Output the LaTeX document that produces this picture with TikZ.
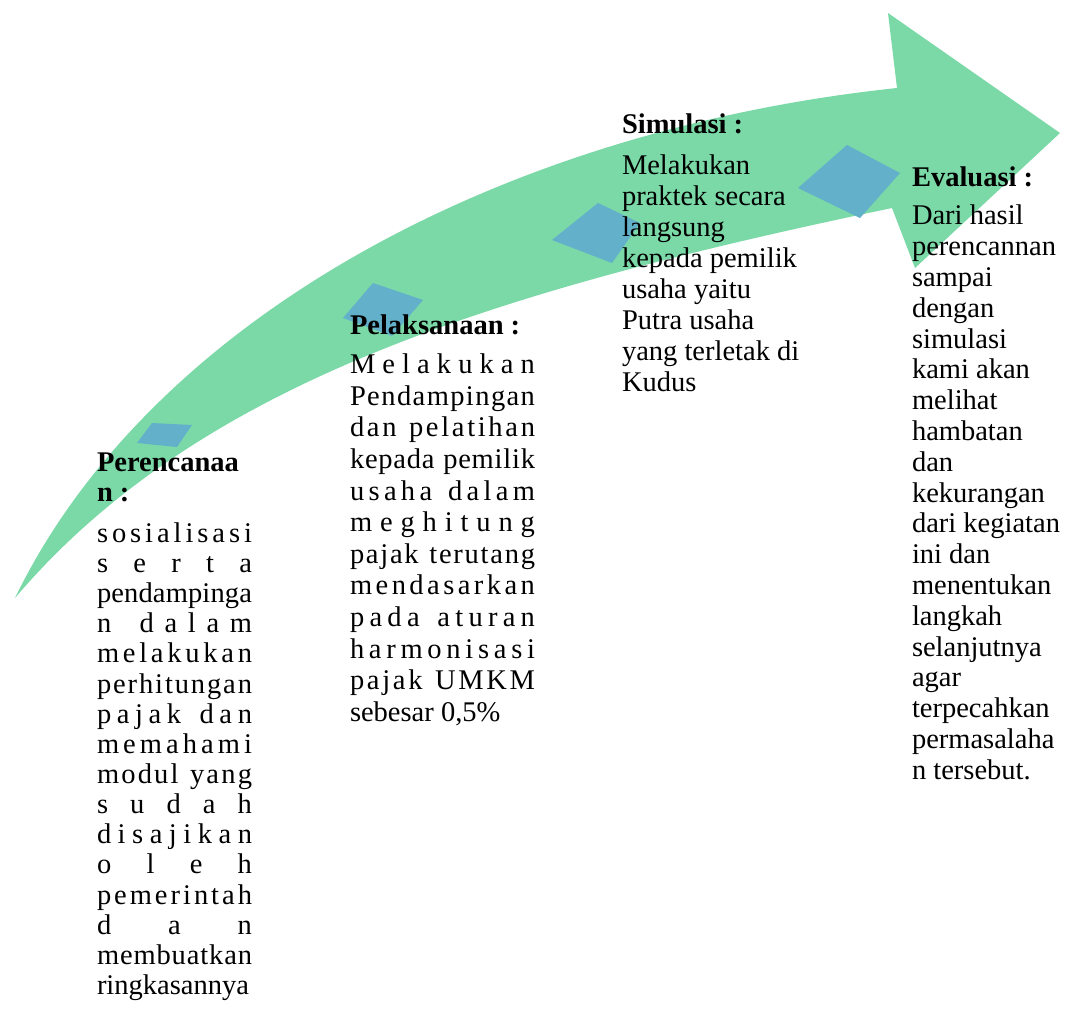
\documentclass[tikz,border=0pt]{standalone}
\usepackage{fontspec}
\setmainfont{Liberation Serif}
\newdimen\distw
\ExplSyntaxOn
\bool_new:N \l_dist_first_bool
\NewDocumentCommand \dist { m }
 {
  \hbox_to_wd:nn { \distw }
   {
    \bool_set_true:N \l_dist_first_bool
    \str_map_inline:nn {#1}
     {
      \bool_if:NTF \l_dist_first_bool
        { \bool_set_false:N \l_dist_first_bool }
        { \hfil }
      ##1
     }
   }
 }
\ExplSyntaxOff
\newcommand\stagebox[3]{\vtop{\distw=#1\relax\baselineskip=#2\relax\lineskiplimit=-1000pt\relax\lineskip=0pt\relax #3}}
\newcommand\headline[1]{\hbox{\bfseries #1}}
\newcommand\plainline[1]{\hbox{#1}}
\definecolor{arrowgreen}{RGB}{122,217,167}
\definecolor{stepblue}{RGB}{98,176,202}
\tikzset{
  stagetext/.style={anchor=base west, inner sep=0pt, outer sep=0pt, font=\fontsize{28.5}{30}\selectfont},
  stepmark/.style={fill=stepblue},
  arrowbody/.style={fill=arrowgreen}
}
\begin{document}
\begin{tikzpicture}[x=1pt,y=-1pt]
\fill[white] (0,0) rectangle (1066,1010);
\useasboundingbox (0,0) rectangle (1066,1010);
% arrow
\coordinate (tail) at (15,598);
\coordinate (un) at (897,88);
\coordinate (tb) at (888,13);
\coordinate (tip) at (1060,133);
\coordinate (bb) at (915,268);
\coordinate (ln) at (892,208);
\fill[arrowbody] (tail) .. controls (150,320) and (500,130) .. (un) -- (tb) -- (tip) -- (bb) -- (ln)
  .. controls (500,290) and (200,380) .. (tail) -- cycle;
% diamonds
\fill[stepmark] (137,443) -- (152,423) -- (192,425) -- (177,447) -- cycle;
\fill[stepmark] (343,318) -- (373,283) -- (423,300) -- (392,336) -- cycle;
\fill[stepmark] (552,240) -- (598,203) -- (640,223) -- (612,263) -- cycle;
\fill[stepmark] (798,188) -- (847,145) -- (900,173) -- (860,218) -- cycle;
% texts
\node[stagetext] (per) at (97,471) {\stagebox{155pt}{30.15pt}{%
  \headline{Perencanaa}\headline{n :}\vskip 11pt
  \dist{sosialisasi}\dist{serta}\dist{pendampinga}\dist{n dalam}\dist{melakukan}%
  \dist{perhitungan}\dist{pajak dan}\dist{memahami}\dist{modul yang}\dist{sudah}%
  \dist{disajikan}\dist{oleh}\dist{pemerintah}\dist{dan}\dist{membuatkan}%
  \plainline{ringkasannya}}};
\node[stagetext] (pel) at (350,334) {\stagebox{185pt}{31.6pt}{%
  \headline{Pelaksanaan :}\vskip 8pt
  \dist{Melakukan}\dist{Pendampingan}\dist{dan pelatihan}\dist{kepada pemilik}%
  \dist{usaha dalam}\dist{meghitung}\dist{pajak terutang}\dist{mendasarkan}%
  \dist{pada aturan}\dist{harmonisasi}\dist{pajak UMKM}\plainline{sebesar 0,5\%}}};
\node[stagetext] (sim) at (622,133) {\stagebox{185pt}{31.1pt}{%
  \headline{Simulasi :}\vskip 10pt
  \plainline{Melakukan}\plainline{praktek secara}\plainline{langsung}%
  \plainline{kepada pemilik}\plainline{usaha yaitu}\plainline{Putra usaha}%
  \plainline{yang terletak di}\plainline{Kudus}}};
\node[stagetext] (eva) at (912,186) {\stagebox{150pt}{30.8pt}{%
  \headline{Evaluasi :}\vskip 8pt
  \plainline{Dari hasil}\plainline{perencannan}\plainline{sampai}\plainline{dengan}%
  \plainline{simulasi}\plainline{kami akan}\plainline{melihat}\plainline{hambatan}%
  \plainline{dan}\plainline{kekurangan}\plainline{dari kegiatan}\plainline{ini dan}%
  \plainline{menentukan}\plainline{langkah}\plainline{selanjutnya}\plainline{agar}%
  \plainline{terpecahkan}\plainline{permasalaha}\plainline{n tersebut.}}};
\end{tikzpicture}
\end{document}
